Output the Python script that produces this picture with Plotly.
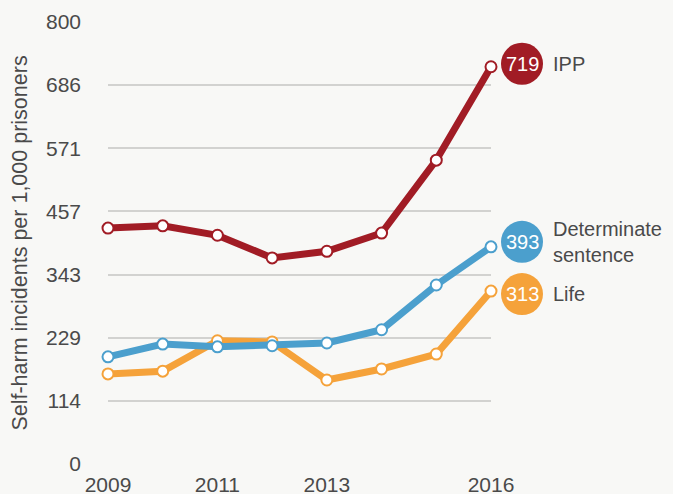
import plotly.graph_objects as go

years = [2009, 2010, 2011, 2012, 2013, 2014, 2015, 2016]
ipp = [427, 431, 414, 373, 385, 418, 550, 719]
determinate = [194, 217, 212, 214, 219, 243, 324, 393]
life = [163, 168, 223, 221, 152, 172, 199, 313]

y_ticks = [0, 800 / 7, 1600 / 7, 2400 / 7, 3200 / 7, 4000 / 7, 4800 / 7, 800]
y_ticktext = ["0", "114", "229", "343", "457", "571", "686", "800"]
x_ticks = [2009, 2011, 2013, 2016]

# drawn bottom to top, so blue sits over orange where they cross
series = [
    ("Life", life, "#f5a23a", -3),
    ("Determinate<br>sentence", determinate, "#4b9fcd", 5),
    ("IPP", ipp, "#a11c25", 3),
]

font = "Liberation Sans, Arial, sans-serif"
text_col = "#4a4a4a"
bg = "#f8f8f6"

fig = go.Figure()
for name, vals, col, nudge in series:
    fig.add_trace(go.Scatter(
        x=years, y=vals, mode="lines+markers", name=name,
        line=dict(color=col, width=7),
        marker=dict(size=11, color="white", line=dict(color=col, width=2)),
        cliponaxis=False, showlegend=False, hoverinfo="skip",
    ))
    last = vals[-1]
    # value badge at the end of the line
    fig.add_shape(type="circle", xref="paper", yref="y",
                  xsizemode="pixel", ysizemode="pixel",
                  xanchor=1, yanchor=last,
                  x0=10, x1=52, y0=-21 + nudge, y1=21 + nudge,
                  fillcolor=col, line=dict(width=0), layer="above")
    fig.add_annotation(x=years[-1], y=last, xref="x", yref="y",
                       text=str(last), showarrow=False,
                       xshift=31, yshift=nudge,
                       font=dict(family=font, size=20, color="white"))
    fig.add_annotation(x=years[-1], y=last, xref="x", yref="y",
                       text=name, showarrow=False, xanchor="left", align="left",
                       xshift=60, yshift=nudge,
                       font=dict(family=font, size=20, color=text_col))

fig.update_layout(
    width=673, height=494,
    margin=dict(l=108, r=182, t=22, b=30),
    paper_bgcolor=bg, plot_bgcolor=bg,
    font=dict(family=font, size=20, color=text_col),
)
fig.update_xaxes(range=[2009, 2016], tickvals=x_ticks, showgrid=False,
                 zeroline=False, showline=False, ticks="", automargin=False,
                 ticklabelstandoff=6, tickfont=dict(size=21))
fig.update_yaxes(range=[0, 800], tickvals=y_ticks, ticktext=y_ticktext,
                 showgrid=True, gridcolor="#d2d2d0", gridwidth=1.5,
                 zeroline=False, showline=False, ticks="", automargin=False,
                 ticklabelstandoff=26, tickfont=dict(size=21),
                 title=dict(text="Self-harm incidents per 1,000 prisoners",
                            font=dict(size=21.5), standoff=12))

# page margin off so the figure sits flush in the window
fig.write_html("out.html", config={"displayModeBar": False}, post_script=(
    "document.body.style.margin='0';"
    "document.body.style.background='%s';" % bg))
